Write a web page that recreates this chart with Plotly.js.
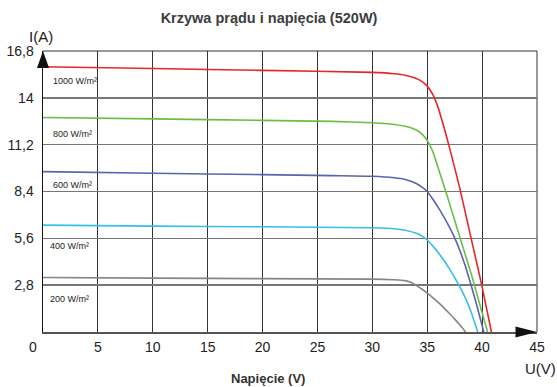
<!DOCTYPE html>
<html>
<head>
<meta charset="utf-8">
<script src="https://cdn.plot.ly/plotly-3.0.1.min.js"></script>
<style>html,body{margin:0;padding:0;background:#fff;}#chart{width:557px;height:387px;}</style>
</head>
<body>
<div id="chart"></div>
<script>
// Data (voltage in V, current in A)
const v1000 = [0, 10, 20, 30, 32, 33, 34, 34.5, 35, 35.5, 36, 36.5, 37, 38, 39, 40, 40.85];
const i1000 = [15.86, 15.75, 15.64, 15.52, 15.44, 15.35, 15.15, 14.98, 14.7, 14.2, 13.4, 12.3, 11.1, 8.5, 5.6, 2.7, 0];

const v800 = [0, 10, 20, 26.3, 30, 32, 33, 34, 34.5, 35, 35.5, 36, 36.5, 37, 38, 39, 40, 40.5];
const i800 = [12.82, 12.74, 12.65, 12.59, 12.51, 12.41, 12.3, 12.08, 11.85, 11.45, 10.8, 9.8, 8.8, 7.75, 5.6, 3.5, 1.15, 0];

const v600 = [0, 10, 20, 26.3, 30, 32, 33, 34, 34.5, 35, 35.5, 36, 36.5, 37, 37.5, 38, 38.5, 39, 39.5, 40, 40.15];
const i600 = [9.59, 9.49, 9.41, 9.35, 9.31, 9.22, 9.12, 8.88, 8.68, 8.4, 7.95, 7.45, 6.9, 6.3, 5.63, 4.83, 3.88, 2.8, 1.63, 0.38, 0];

const v400 = [0, 10, 20, 30, 32, 33, 34, 34.5, 35, 35.5, 36, 36.5, 37, 37.5, 38, 38.5, 39, 39.6];
const i400 = [6.39, 6.33, 6.29, 6.23, 6.17, 6.08, 5.9, 5.75, 5.5, 5.15, 4.75, 4.3, 3.8, 3.25, 2.65, 2.0, 1.2, 0];

const v200 = [0, 10, 20, 30, 32, 33, 33.5, 34, 34.5, 35, 35.5, 36, 36.5, 37, 37.5, 38, 38.5];
const i200 = [3.26, 3.22, 3.19, 3.16, 3.12, 3.07, 2.97, 2.79, 2.57, 2.33, 2.06, 1.77, 1.46, 1.12, 0.77, 0.4, 0];

const seriesNames = ['1000 W/m²', '800 W/m²', '600 W/m²', '400 W/m²', '200 W/m²'];
const xTickVals = [5, 10, 15, 20, 25, 30, 35, 40, 45];
const xTickText = ['5', '10', '15', '20', '25', '30', '35', '40', '45'];
const yTickVals = [2.8, 5.6, 8.4, 11.2, 14, 16.8];
const yTickText = ['2,8', '5,6', '8,4', '11,2', '14', '16,8'];
// label anchor points (V, A) for irradiance labels
const labelX = [0.75, 0.7, 0.72, 0.45, 0.45];
const labelY = [15.03, 11.85, 8.76, 5.13, 2.0];

const colors = ['#e8262a', '#6cbd45', '#5a63b0', '#35bfe8', '#8a8385'];
const xs = [v1000, v800, v600, v400, v200];
const ys = [i1000, i800, i600, i400, i200];

const traces = xs.map((x, k) => ({
  x: x, y: ys[k], type: 'scatter', mode: 'lines', name: seriesNames[k],
  line: {color: colors[k], width: 1.6, shape: 'spline', smoothing: 0.5},
  hoverinfo: 'skip', cliponaxis: true
}));

const font = 'Liberation Sans, Arial, sans-serif';
const annotations = seriesNames.map((t, k) => ({
  x: labelX[k], y: labelY[k], xref: 'x', yref: 'y', text: t, showarrow: false,
  xanchor: 'left', yanchor: 'middle', font: {family: font, size: 9, color: '#222'}
}));
annotations.push(
  {x: 0, y: 0, xref: 'x', yref: 'y', text: '0', showarrow: false, xanchor: 'center', yanchor: 'top',
   xshift: -10, yshift: -5, font: {family: font, size: 14, color: '#222'}},
  {x: 1, y: 0, xref: 'paper', yref: 'paper', text: 'U(V)', showarrow: false, xanchor: 'center', yanchor: 'middle',
   xshift: 3, yshift: -36, font: {family: font, size: 15, color: '#222'}},
  {x: 0, y: 1, xref: 'paper', yref: 'paper', text: 'I(A)', showarrow: false, xanchor: 'center', yanchor: 'middle',
   xshift: -2, yshift: 15, font: {family: font, size: 15, color: '#222'}},
  {x: 0.455, y: 0, xref: 'paper', yref: 'paper', text: '<b>Napięcie (V)</b>', showarrow: false, xanchor: 'center', yanchor: 'middle',
   yshift: -46, font: {family: font, size: 13, color: '#333'}}
);

const layout = {
  width: 557, height: 387,
  margin: {l: 43, r: 20, t: 51, b: 55, pad: 0},
  paper_bgcolor: '#fff', plot_bgcolor: '#fff',
  showlegend: false,
  title: {text: '<b>Krzywa prądu i napięcia (520W)</b>', x: 0.483, xanchor: 'center', y: 0.953, yanchor: 'middle',
          font: {family: font, size: 14.5, color: '#3d3d3d'}},
  xaxis: {range: [0, 45], tickvals: xTickVals, ticktext: xTickText, showgrid: true, gridcolor: '#333', gridwidth: 1,
          zeroline: false, showline: true, linecolor: '#555', linewidth: 1.5, ticks: '', ticklabelstandoff: 2,
          tickfont: {family: font, size: 14, color: '#222'}, fixedrange: true},
  yaxis: {range: [0, 16.8], tickvals: yTickVals, ticktext: yTickText, showgrid: true, gridcolor: '#777', gridwidth: 1.5,
          zeroline: false, showline: true, linecolor: '#111', linewidth: 1.5, ticks: '', ticklabelstandoff: 5,
          tickfont: {family: font, size: 14, color: '#222'}, fixedrange: true},
  annotations: annotations,
  shapes: [
    {type: 'line', xref: 'paper', yref: 'paper', x0: 0, x1: 1, y0: 1, y1: 1, line: {color: '#777', width: 1.5}, layer: 'below'},
    {type: 'line', xref: 'paper', yref: 'paper', x0: 1, x1: 1, y0: 0, y1: 1, line: {color: '#333', width: 1}, layer: 'below'},
    {type: 'path', xref: 'paper', yref: 'paper', path: 'M -0.0122,0.9395 L 0,1 L 0.0122,0.9395 Z',
     fillcolor: '#111', line: {width: 0}},
    {type: 'path', xref: 'paper', yref: 'paper', path: 'M 0.9565,0.0196 L 1,0 L 0.9565,-0.0196 Z',
     fillcolor: '#111', line: {width: 0}}
  ]
};

Plotly.newPlot('chart', traces, layout, {displayModeBar: false, staticPlot: true});
</script>
</body>
</html>
